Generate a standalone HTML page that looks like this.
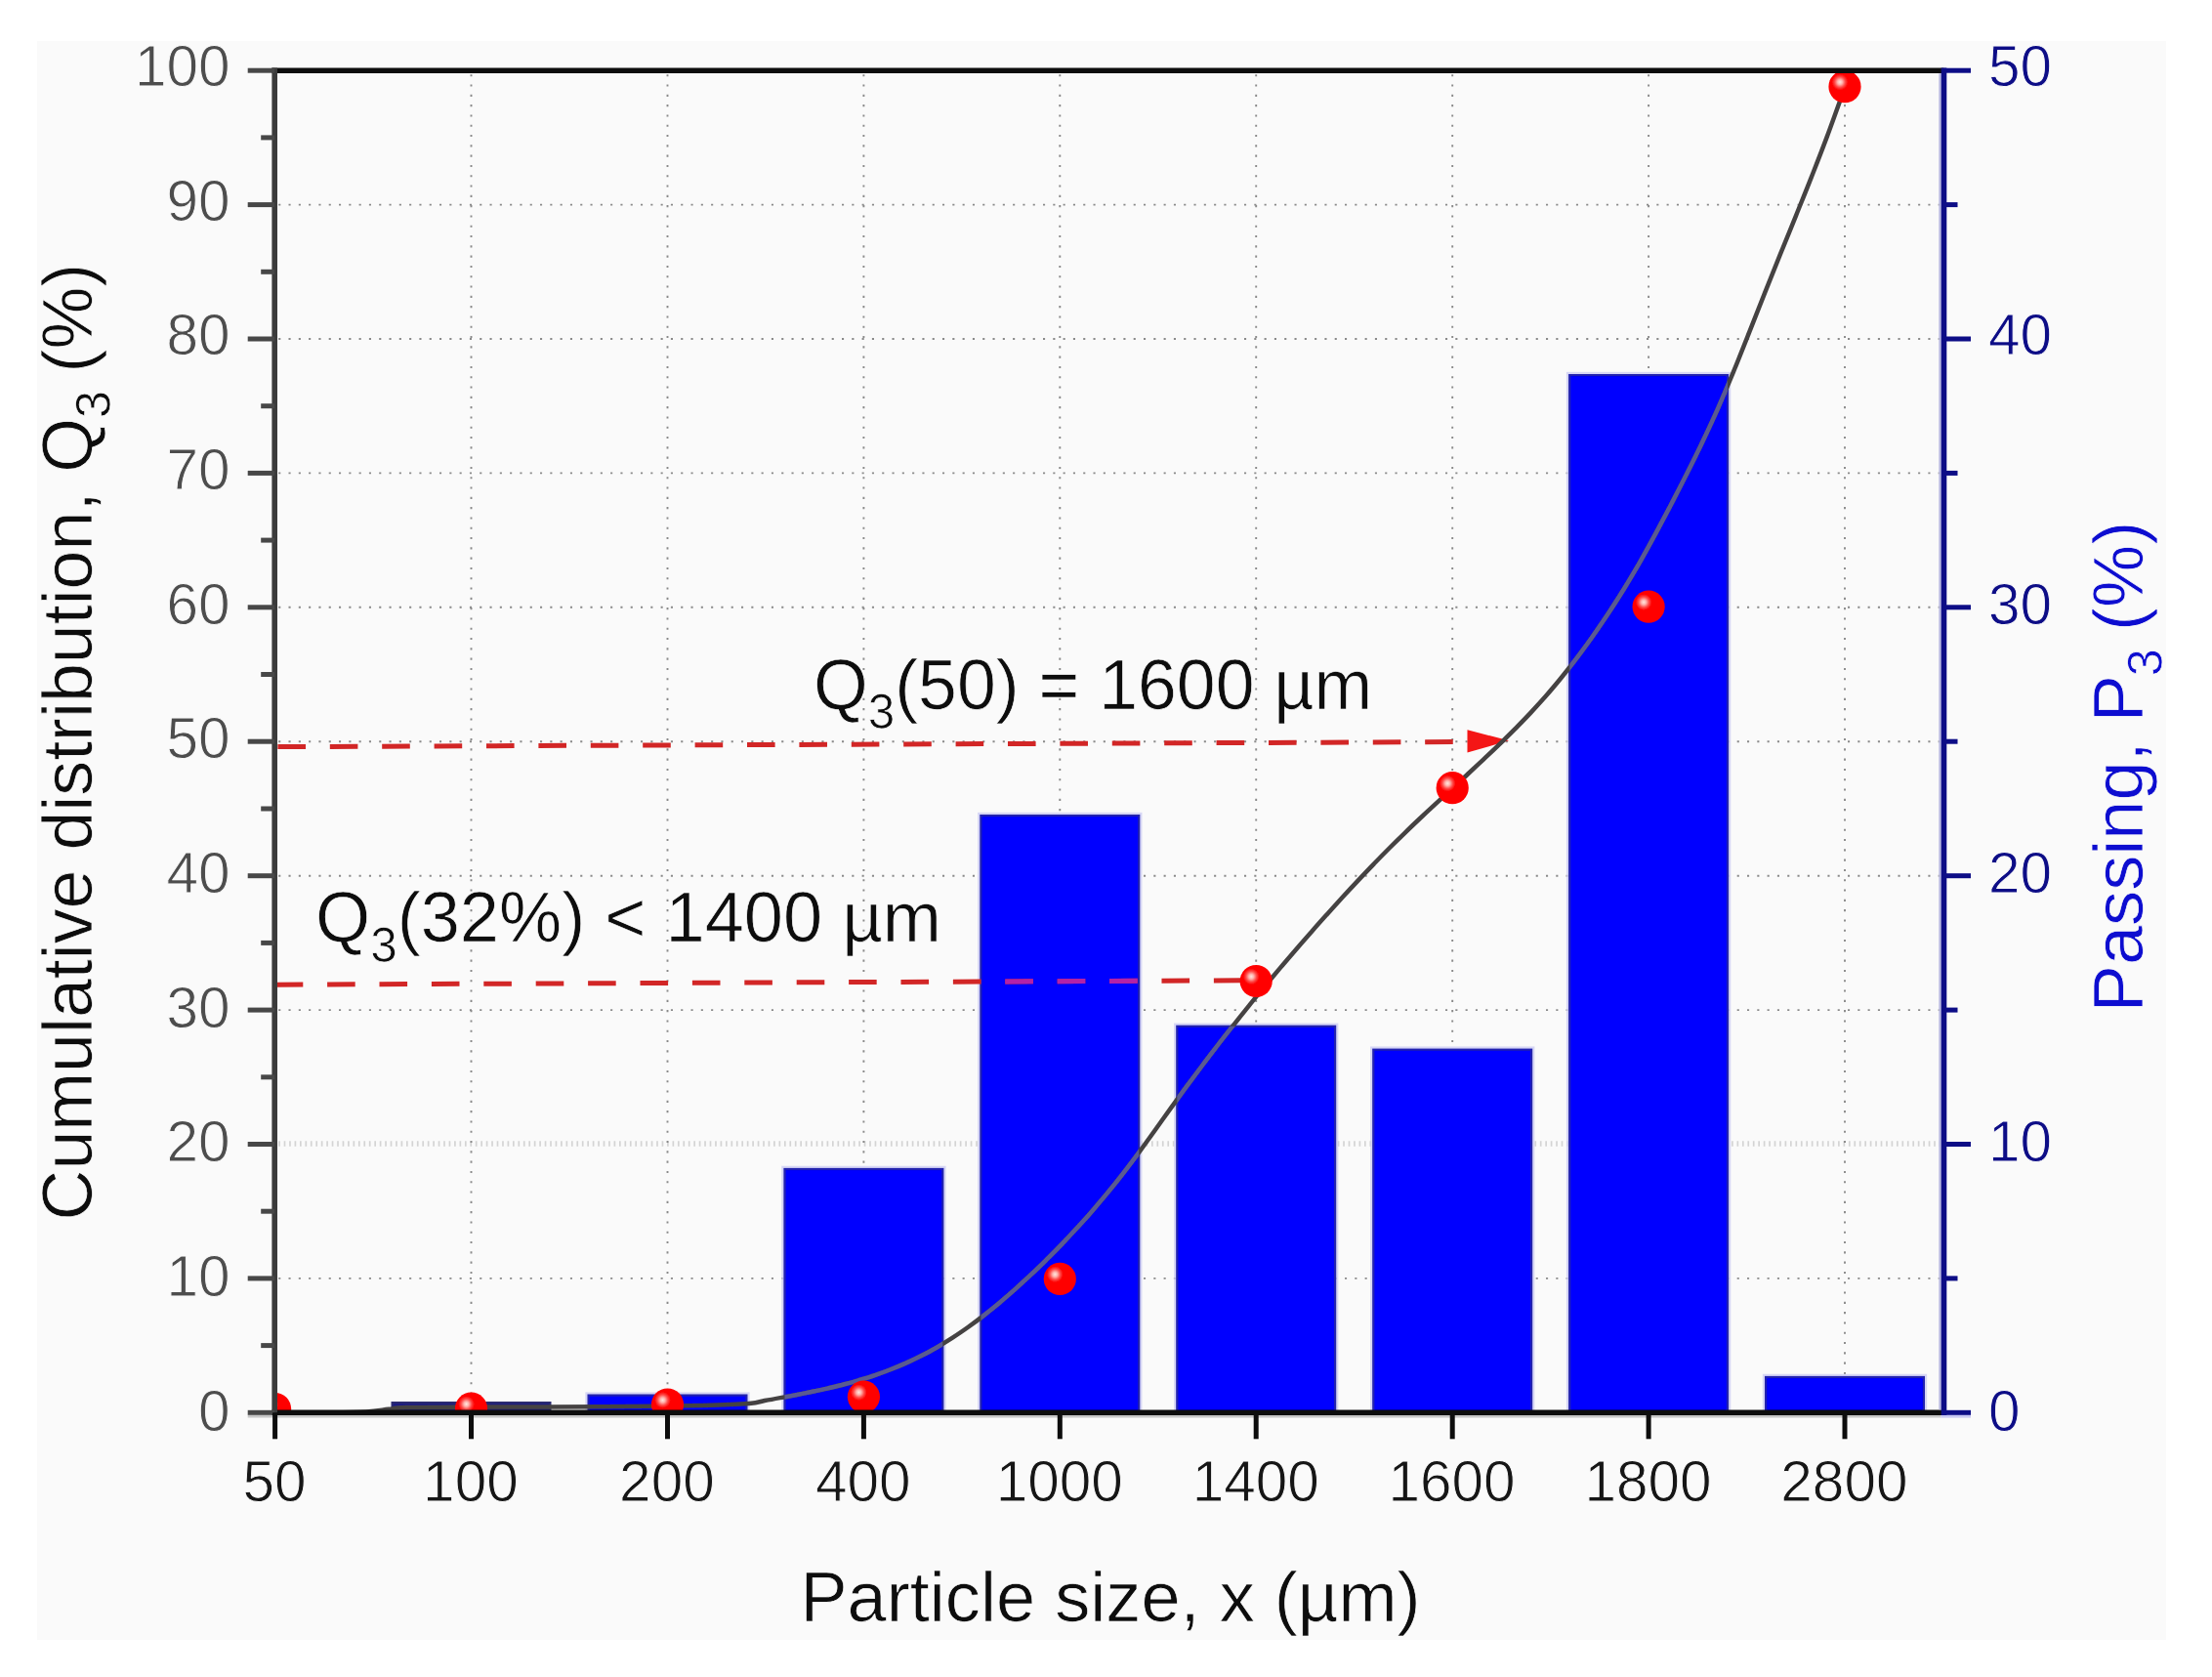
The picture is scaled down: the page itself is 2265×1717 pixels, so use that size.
<!DOCTYPE html>
<html lang="en"><head><meta charset="utf-8"><title>Particle size distribution</title>
<style>html,body{margin:0;padding:0;background:#fff}body{width:2265px;height:1717px;overflow:hidden}svg{display:block}text{font-family:"Liberation Sans", Arial, Helvetica, sans-serif;font-kerning:none;font-variant-ligatures:none;stroke:#fafafa;stroke-width:0.9px;stroke-linejoin:round}.big{stroke-width:0.7px}</style>
</head><body>
<svg width="2265" height="1717" viewBox="0 0 2265 1717">
<defs>
<clipPath id="img"><rect x="38" y="42" width="2180" height="1637"/></clipPath>
<clipPath id="plot"><rect x="281.2" y="42.2" width="1709.3" height="1404.1"/></clipPath>
<radialGradient id="ball" cx="0.35" cy="0.36" r="0.25"><stop offset="0" stop-color="#ffe6de"/><stop offset="0.3" stop-color="#ffb4ae"/><stop offset="0.65" stop-color="#ff4a48"/><stop offset="1" stop-color="#ff0000"/></radialGradient>
<filter id="soft" x="-5%" y="-5%" width="110%" height="110%"><feGaussianBlur stdDeviation="0.7"/></filter>
</defs>
<rect x="0" y="0" width="2265" height="1717" fill="#ffffff"/>
<g clip-path="url(#img)" filter="url(#soft)">
<rect x="38" y="42" width="2180" height="1637" fill="#fafafa"/>
<g stroke="#8a8a8a" stroke-width="1.9" stroke-dasharray="2.1 8.2" fill="none">
<line x1="285.2" y1="1308.9" x2="1987.5" y2="1308.9"/>
<line x1="285.2" y1="1171.0" x2="1987.5" y2="1171.0" stroke="#d4d4d4" stroke-width="5.5" stroke-dasharray="1.7 3.75"/>
<line x1="285.2" y1="1034.1" x2="1987.5" y2="1034.1"/>
<line x1="285.2" y1="896.7" x2="1987.5" y2="896.7"/>
<line x1="285.2" y1="759.2" x2="1987.5" y2="759.2"/>
<line x1="285.2" y1="621.8" x2="1987.5" y2="621.8"/>
<line x1="285.2" y1="484.4" x2="1987.5" y2="484.4"/>
<line x1="285.2" y1="347.0" x2="1987.5" y2="347.0"/>
<line x1="285.2" y1="209.6" x2="1987.5" y2="209.6"/>
<line x1="482.5" y1="76.2" x2="482.5" y2="1443.3"/>
<line x1="683.5" y1="76.2" x2="683.5" y2="1443.3"/>
<line x1="884.4" y1="76.2" x2="884.4" y2="1443.3"/>
<line x1="1085.3" y1="76.2" x2="1085.3" y2="1443.3"/>
<line x1="1286.2" y1="76.2" x2="1286.2" y2="1443.3"/>
<line x1="1487.2" y1="76.2" x2="1487.2" y2="1443.3"/>
<line x1="1688.1" y1="76.2" x2="1688.1" y2="1443.3"/>
<line x1="1889.0" y1="76.2" x2="1889.0" y2="1443.3"/>
</g>
<clipPath id="barclip"><rect x="803.5" y="1197.0" width="161.8" height="249.3"/><rect x="1004.4" y="835.1" width="161.8" height="611.2"/><rect x="1205.3" y="1050.8" width="161.8" height="395.5"/><rect x="1406.3" y="1074.7" width="161.8" height="371.6"/><rect x="1607.2" y="384.1" width="161.8" height="1062.2"/><rect x="1808.1" y="1410.0" width="161.8" height="36.3"/></clipPath>
<g fill="none" stroke="#c9c9f3" stroke-width="6.5" stroke-opacity="0.75">
<rect x="602.6" y="1428.6" width="161.8" height="17.7"/>
<rect x="803.5" y="1197.0" width="161.8" height="249.3"/>
<rect x="1004.4" y="835.1" width="161.8" height="611.2"/>
<rect x="1205.3" y="1050.8" width="161.8" height="395.5"/>
<rect x="1406.3" y="1074.7" width="161.8" height="371.6"/>
<rect x="1607.2" y="384.1" width="161.8" height="1062.2"/>
<rect x="1808.1" y="1410.0" width="161.8" height="36.3"/>
</g>
<g fill="#0000ff" stroke="#2020b0" stroke-width="2.2">
<rect x="401.6" y="1436.1" width="161.8" height="10.2" fill="#1c1c84" stroke="#2a2a70"/>
<rect x="602.6" y="1428.6" width="161.8" height="17.7"/>
<rect x="803.5" y="1197.0" width="161.8" height="249.3"/>
<rect x="1004.4" y="835.1" width="161.8" height="611.2"/>
<rect x="1205.3" y="1050.8" width="161.8" height="395.5"/>
<rect x="1406.3" y="1074.7" width="161.8" height="371.6"/>
<rect x="1607.2" y="384.1" width="161.8" height="1062.2"/>
<rect x="1808.1" y="1410.0" width="161.8" height="36.3"/>
</g>
<g stroke="#d22626" stroke-width="5" stroke-dasharray="28.6 24.8" fill="none">
<line x1="284.4" y1="764.6" x2="1488" y2="759.6"/>
<line x1="281.7" y1="1008.2" x2="1280" y2="1003.8"/>
</g>
<g stroke="#b424a8" stroke-width="5" stroke-dasharray="28.6 24.8" fill="none" clip-path="url(#barclip)">
<line x1="284.4" y1="764.6" x2="1488" y2="759.6"/>
<line x1="281.7" y1="1008.2" x2="1280" y2="1003.8"/>
</g>
<polygon points="1502.5,747.3 1545,758.3 1502.5,770.6" fill="#f41414"/>
<g clip-path="url(#plot)" fill="none" stroke-width="4.5" stroke-linecap="round" stroke-linejoin="round">
<path d="M281.0,1446.5 C289.2,1446.5 314.3,1446.5 330.0,1446.3 C345.7,1446.1 363.7,1446.0 375.0,1445.4 C386.3,1444.8 391.3,1443.5 398.0,1442.8 C404.7,1442.1 401.0,1441.4 415.0,1441.0 C429.0,1440.6 457.8,1440.7 482.0,1440.6 C506.2,1440.5 533.7,1440.6 560.0,1440.5 C586.3,1440.4 613.3,1440.3 640.0,1440.0 C666.7,1439.7 698.8,1439.4 720.0,1438.9 C741.2,1438.4 756.5,1437.8 767.0,1437.0 C777.5,1436.1 777.7,1435.0 783.0,1434.0 C788.3,1433.1 793.7,1432.1 799.0,1431.1 C804.3,1430.2 809.7,1429.2 815.0,1428.2 C820.3,1427.1 825.7,1426.1 831.0,1425.0 C836.3,1423.9 841.7,1422.8 847.0,1421.6 C852.3,1420.3 857.7,1419.1 863.0,1417.7 C868.3,1416.3 873.7,1414.9 879.0,1413.3 C884.3,1411.7 889.7,1410.1 895.0,1408.3 C900.3,1406.5 905.7,1404.6 911.0,1402.5 C916.3,1400.5 921.7,1398.3 927.0,1395.9 C932.3,1393.6 937.7,1391.0 943.0,1388.3 C948.3,1385.6 953.7,1382.8 959.0,1379.7 C964.3,1376.6 969.7,1373.3 975.0,1369.9 C980.3,1366.4 985.7,1362.8 991.0,1359.0 C996.3,1355.2 1001.7,1351.2 1007.0,1347.1 C1012.3,1342.9 1017.7,1338.6 1023.0,1334.2 C1028.3,1329.7 1033.7,1325.1 1039.0,1320.4 C1044.3,1315.6 1049.7,1310.7 1055.0,1305.7 C1060.3,1300.7 1065.7,1295.6 1071.0,1290.3 C1076.3,1285.0 1081.7,1279.7 1087.0,1274.1 C1092.3,1268.6 1097.7,1262.9 1103.0,1257.1 C1108.3,1251.3 1113.7,1245.3 1119.0,1239.2 C1124.3,1233.0 1129.7,1226.7 1135.0,1220.2 C1140.3,1213.7 1145.7,1207.0 1151.0,1200.1 C1156.3,1193.2 1161.7,1186.0 1167.0,1178.8 C1172.3,1171.6 1177.7,1164.1 1183.0,1156.7 C1188.3,1149.3 1193.7,1141.8 1199.0,1134.4 C1204.3,1127.0 1209.7,1119.7 1215.0,1112.4 C1220.3,1105.2 1225.7,1098.0 1231.0,1091.0 C1236.3,1083.9 1241.7,1076.9 1247.0,1070.0 C1252.3,1063.1 1257.7,1056.3 1263.0,1049.6 C1268.3,1042.8 1273.7,1036.2 1279.0,1029.6 C1284.3,1023.0 1289.7,1016.5 1295.0,1010.0 C1300.3,1003.6 1305.7,997.2 1311.0,990.9 C1316.3,984.6 1321.7,978.4 1327.0,972.2 C1332.3,966.0 1337.7,959.9 1343.0,953.9 C1348.3,947.8 1353.7,941.8 1359.0,935.9 C1364.3,930.0 1369.7,924.1 1375.0,918.3 C1380.3,912.5 1385.7,906.7 1391.0,901.1 C1396.3,895.4 1401.7,889.8 1407.0,884.3 C1412.3,878.8 1417.7,873.3 1423.0,868.0 C1428.3,862.7 1433.7,857.4 1439.0,852.3 C1444.3,847.1 1449.7,842.0 1455.0,837.0 C1460.3,832.0 1465.7,827.0 1471.0,822.1 C1476.3,817.1 1481.7,812.2 1487.0,807.3 C1492.3,802.4 1497.7,797.5 1503.0,792.5 C1508.3,787.6 1513.7,782.6 1519.0,777.6 C1524.3,772.6 1529.7,767.6 1535.0,762.4 C1540.3,757.2 1545.7,752.0 1551.0,746.6 C1556.3,741.2 1561.7,735.8 1567.0,730.1 C1572.3,724.4 1577.7,718.5 1583.0,712.5 C1588.3,706.4 1593.7,700.1 1599.0,693.5 C1604.3,687.0 1609.7,680.2 1615.0,673.2 C1620.3,666.1 1625.7,658.9 1631.0,651.3 C1636.3,643.7 1641.7,635.9 1647.0,627.8 C1652.3,619.7 1657.7,611.3 1663.0,602.7 C1668.3,594.0 1673.7,585.0 1679.0,575.8 C1684.3,566.5 1689.7,556.8 1695.0,546.9 C1700.3,537.1 1705.7,526.9 1711.0,516.7 C1716.3,506.5 1721.7,496.2 1727.0,485.6 C1732.3,475.0 1737.7,464.3 1743.0,453.0 C1748.3,441.8 1753.7,430.3 1759.0,418.3 C1764.3,406.2 1769.7,393.5 1775.0,380.6 C1780.3,367.7 1785.7,354.0 1791.0,340.6 C1796.3,327.2 1801.7,313.5 1807.0,300.1 C1812.3,286.7 1817.7,273.4 1823.0,260.2 C1828.3,246.9 1833.7,234.0 1839.0,220.8 C1844.3,207.6 1849.7,194.5 1855.0,180.9 C1860.3,167.4 1865.7,153.7 1871.0,139.4 C1876.3,125.2 1884.0,103.5 1887.0,95.2 C1890.0,86.9 1888.7,90.4 1889.0,89.4" stroke="#454343"/>
<path d="M281.0,1446.5 C289.2,1446.5 314.3,1446.5 330.0,1446.3 C345.7,1446.1 363.7,1446.0 375.0,1445.4 C386.3,1444.8 391.3,1443.5 398.0,1442.8 C404.7,1442.1 401.0,1441.4 415.0,1441.0 C429.0,1440.6 457.8,1440.7 482.0,1440.6 C506.2,1440.5 533.7,1440.6 560.0,1440.5 C586.3,1440.4 613.3,1440.3 640.0,1440.0 C666.7,1439.7 698.8,1439.4 720.0,1438.9 C741.2,1438.4 756.5,1437.8 767.0,1437.0 C777.5,1436.1 777.7,1435.0 783.0,1434.0 C788.3,1433.1 793.7,1432.1 799.0,1431.1 C804.3,1430.2 809.7,1429.2 815.0,1428.2 C820.3,1427.1 825.7,1426.1 831.0,1425.0 C836.3,1423.9 841.7,1422.8 847.0,1421.6 C852.3,1420.3 857.7,1419.1 863.0,1417.7 C868.3,1416.3 873.7,1414.9 879.0,1413.3 C884.3,1411.7 889.7,1410.1 895.0,1408.3 C900.3,1406.5 905.7,1404.6 911.0,1402.5 C916.3,1400.5 921.7,1398.3 927.0,1395.9 C932.3,1393.6 937.7,1391.0 943.0,1388.3 C948.3,1385.6 953.7,1382.8 959.0,1379.7 C964.3,1376.6 969.7,1373.3 975.0,1369.9 C980.3,1366.4 985.7,1362.8 991.0,1359.0 C996.3,1355.2 1001.7,1351.2 1007.0,1347.1 C1012.3,1342.9 1017.7,1338.6 1023.0,1334.2 C1028.3,1329.7 1033.7,1325.1 1039.0,1320.4 C1044.3,1315.6 1049.7,1310.7 1055.0,1305.7 C1060.3,1300.7 1065.7,1295.6 1071.0,1290.3 C1076.3,1285.0 1081.7,1279.7 1087.0,1274.1 C1092.3,1268.6 1097.7,1262.9 1103.0,1257.1 C1108.3,1251.3 1113.7,1245.3 1119.0,1239.2 C1124.3,1233.0 1129.7,1226.7 1135.0,1220.2 C1140.3,1213.7 1145.7,1207.0 1151.0,1200.1 C1156.3,1193.2 1161.7,1186.0 1167.0,1178.8 C1172.3,1171.6 1177.7,1164.1 1183.0,1156.7 C1188.3,1149.3 1193.7,1141.8 1199.0,1134.4 C1204.3,1127.0 1209.7,1119.7 1215.0,1112.4 C1220.3,1105.2 1225.7,1098.0 1231.0,1091.0 C1236.3,1083.9 1241.7,1076.9 1247.0,1070.0 C1252.3,1063.1 1257.7,1056.3 1263.0,1049.6 C1268.3,1042.8 1273.7,1036.2 1279.0,1029.6 C1284.3,1023.0 1289.7,1016.5 1295.0,1010.0 C1300.3,1003.6 1305.7,997.2 1311.0,990.9 C1316.3,984.6 1321.7,978.4 1327.0,972.2 C1332.3,966.0 1337.7,959.9 1343.0,953.9 C1348.3,947.8 1353.7,941.8 1359.0,935.9 C1364.3,930.0 1369.7,924.1 1375.0,918.3 C1380.3,912.5 1385.7,906.7 1391.0,901.1 C1396.3,895.4 1401.7,889.8 1407.0,884.3 C1412.3,878.8 1417.7,873.3 1423.0,868.0 C1428.3,862.7 1433.7,857.4 1439.0,852.3 C1444.3,847.1 1449.7,842.0 1455.0,837.0 C1460.3,832.0 1465.7,827.0 1471.0,822.1 C1476.3,817.1 1481.7,812.2 1487.0,807.3 C1492.3,802.4 1497.7,797.5 1503.0,792.5 C1508.3,787.6 1513.7,782.6 1519.0,777.6 C1524.3,772.6 1529.7,767.6 1535.0,762.4 C1540.3,757.2 1545.7,752.0 1551.0,746.6 C1556.3,741.2 1561.7,735.8 1567.0,730.1 C1572.3,724.4 1577.7,718.5 1583.0,712.5 C1588.3,706.4 1593.7,700.1 1599.0,693.5 C1604.3,687.0 1609.7,680.2 1615.0,673.2 C1620.3,666.1 1625.7,658.9 1631.0,651.3 C1636.3,643.7 1641.7,635.9 1647.0,627.8 C1652.3,619.7 1657.7,611.3 1663.0,602.7 C1668.3,594.0 1673.7,585.0 1679.0,575.8 C1684.3,566.5 1689.7,556.8 1695.0,546.9 C1700.3,537.1 1705.7,526.9 1711.0,516.7 C1716.3,506.5 1721.7,496.2 1727.0,485.6 C1732.3,475.0 1737.7,464.3 1743.0,453.0 C1748.3,441.8 1753.7,430.3 1759.0,418.3 C1764.3,406.2 1769.7,393.5 1775.0,380.6 C1780.3,367.7 1785.7,354.0 1791.0,340.6 C1796.3,327.2 1801.7,313.5 1807.0,300.1 C1812.3,286.7 1817.7,273.4 1823.0,260.2 C1828.3,246.9 1833.7,234.0 1839.0,220.8 C1844.3,207.6 1849.7,194.5 1855.0,180.9 C1860.3,167.4 1865.7,153.7 1871.0,139.4 C1876.3,125.2 1884.0,103.5 1887.0,95.2 C1890.0,86.9 1888.7,90.4 1889.0,89.4" stroke="#5a5a92" clip-path="url(#barclip)"/>
</g>
<g clip-path="url(#plot)">
<circle cx="281.6" cy="1442.6" r="16.6" fill="url(#ball)"/>
<circle cx="482.5" cy="1442.2" r="16.6" fill="url(#ball)"/>
<circle cx="683.5" cy="1438.1" r="16.6" fill="url(#ball)"/>
<circle cx="884.4" cy="1430.2" r="16.6" fill="url(#ball)"/>
<circle cx="1085.3" cy="1309.4" r="16.6" fill="url(#ball)"/>
<circle cx="1286.2" cy="1004.5" r="16.6" fill="url(#ball)"/>
<circle cx="1487.2" cy="806.7" r="16.6" fill="url(#ball)"/>
<circle cx="1688.1" cy="621.2" r="16.6" fill="url(#ball)"/>
<circle cx="1889.0" cy="88.7" r="16.6" fill="url(#ball)"/>
</g>
<line x1="253.7" y1="1450.2" x2="1987.7" y2="1450.2" stroke="#c6c6c6" stroke-width="2.8"/>
<line x1="1987.7" y1="1450.2" x2="2018.0" y2="1450.2" stroke="#c8c8f2" stroke-width="2.8"/>
<line x1="278.4" y1="72.2" x2="1990.5" y2="72.2" stroke="#0c0c0c" stroke-width="5.6"/>
<line x1="278.4" y1="1446.3" x2="1990.5" y2="1446.3" stroke="#0c0c0c" stroke-width="5.6"/>
<line x1="281.2" y1="69.4" x2="281.2" y2="1449.1" stroke="#3a3a3a" stroke-width="5.6"/>
<line x1="1986.6" y1="75.2" x2="1986.6" y2="1443.3" stroke="#b9b9e2" stroke-width="2.6"/>
<line x1="1990.5" y1="69.4" x2="1990.5" y2="1449.1" stroke="#0a0a86" stroke-width="5.6"/>
<g stroke="#474747" stroke-width="5">
<line x1="253.7" y1="1446.3" x2="281.2" y2="1446.3"/>
<line x1="267.2" y1="1377.6" x2="281.2" y2="1377.6"/>
<line x1="253.7" y1="1308.9" x2="281.2" y2="1308.9"/>
<line x1="267.2" y1="1240.2" x2="281.2" y2="1240.2"/>
<line x1="253.7" y1="1171.5" x2="281.2" y2="1171.5"/>
<line x1="267.2" y1="1102.8" x2="281.2" y2="1102.8"/>
<line x1="253.7" y1="1034.1" x2="281.2" y2="1034.1"/>
<line x1="267.2" y1="965.4" x2="281.2" y2="965.4"/>
<line x1="253.7" y1="896.7" x2="281.2" y2="896.7"/>
<line x1="267.2" y1="828.0" x2="281.2" y2="828.0"/>
<line x1="253.7" y1="759.2" x2="281.2" y2="759.2"/>
<line x1="267.2" y1="690.5" x2="281.2" y2="690.5"/>
<line x1="253.7" y1="621.8" x2="281.2" y2="621.8"/>
<line x1="267.2" y1="553.1" x2="281.2" y2="553.1"/>
<line x1="253.7" y1="484.4" x2="281.2" y2="484.4"/>
<line x1="267.2" y1="415.7" x2="281.2" y2="415.7"/>
<line x1="253.7" y1="347.0" x2="281.2" y2="347.0"/>
<line x1="267.2" y1="278.3" x2="281.2" y2="278.3"/>
<line x1="253.7" y1="209.6" x2="281.2" y2="209.6"/>
<line x1="267.2" y1="140.9" x2="281.2" y2="140.9"/>
<line x1="253.7" y1="72.2" x2="281.2" y2="72.2"/>
</g>
<g stroke="#0a0a86" stroke-width="5">
<line x1="1990.5" y1="1446.3" x2="2018.0" y2="1446.3"/>
<line x1="1990.5" y1="1308.9" x2="2004.5" y2="1308.9"/>
<line x1="1990.5" y1="1171.5" x2="2018.0" y2="1171.5"/>
<line x1="1990.5" y1="1034.1" x2="2004.5" y2="1034.1"/>
<line x1="1990.5" y1="896.7" x2="2018.0" y2="896.7"/>
<line x1="1990.5" y1="759.2" x2="2004.5" y2="759.2"/>
<line x1="1990.5" y1="621.8" x2="2018.0" y2="621.8"/>
<line x1="1990.5" y1="484.4" x2="2004.5" y2="484.4"/>
<line x1="1990.5" y1="347.0" x2="2018.0" y2="347.0"/>
<line x1="1990.5" y1="209.6" x2="2004.5" y2="209.6"/>
<line x1="1990.5" y1="72.2" x2="2018.0" y2="72.2"/>
</g>
<g stroke="#0c0c0c" stroke-width="5">
<line x1="281.6" y1="1446.3" x2="281.6" y2="1473.3"/>
<line x1="482.5" y1="1446.3" x2="482.5" y2="1473.3"/>
<line x1="683.5" y1="1446.3" x2="683.5" y2="1473.3"/>
<line x1="884.4" y1="1446.3" x2="884.4" y2="1473.3"/>
<line x1="1085.3" y1="1446.3" x2="1085.3" y2="1473.3"/>
<line x1="1286.2" y1="1446.3" x2="1286.2" y2="1473.3"/>
<line x1="1487.2" y1="1446.3" x2="1487.2" y2="1473.3"/>
<line x1="1688.1" y1="1446.3" x2="1688.1" y2="1473.3"/>
<line x1="1889.0" y1="1446.3" x2="1889.0" y2="1473.3"/>
</g>
<g font-size="58.5" fill="#4d4d4d" text-anchor="end">
<text x="235.5" y="1464.7">0</text>
<text x="235.5" y="1327.0">10</text>
<text x="235.5" y="1189.4">20</text>
<text x="235.5" y="1051.7">30</text>
<text x="235.5" y="914.0">40</text>
<text x="235.5" y="776.4">50</text>
<text x="235.5" y="638.7">60</text>
<text x="235.5" y="501.0">70</text>
<text x="235.5" y="363.3">80</text>
<text x="235.5" y="225.7">90</text>
<text x="235.5" y="88.0">100</text>
</g>
<g font-size="58.5" fill="#0a0a86" text-anchor="start">
<text x="2036" y="1464.7">0</text>
<text x="2036" y="1189.4">10</text>
<text x="2036" y="914.0">20</text>
<text x="2036" y="638.7">30</text>
<text x="2036" y="363.3">40</text>
<text x="2036" y="88.0">50</text>
</g>
<g font-size="58.5" fill="#141414" text-anchor="middle">
<text x="281.0" y="1537.2">50</text>
<text x="481.9" y="1537.2">100</text>
<text x="682.9" y="1537.2">200</text>
<text x="883.8" y="1537.2">400</text>
<text x="1084.7" y="1537.2">1000</text>
<text x="1285.7" y="1537.2">1400</text>
<text x="1486.6" y="1537.2">1600</text>
<text x="1687.5" y="1537.2">1800</text>
<text x="1888.4" y="1537.2">2800</text>
</g>
<text class="big" x="1137" y="1660" font-size="72.2" fill="#111" text-anchor="middle">Particle size, x (µm)</text>
<text class="big" transform="translate(93.9,759.6) rotate(-90)" font-size="71.7668" fill="#111" text-anchor="middle">Cumulative distribution, Q<tspan font-size="50.54" dy="19.5">3</tspan><tspan dy="-19.5" dx="-1.5"> (%)</tspan></text>
<text class="big" transform="translate(2193.8,785) rotate(-90)" font-size="72.2" fill="#0b0bd0" text-anchor="middle">Passing, P<tspan font-size="50.54" dy="20" dx="-1">3</tspan><tspan dy="-20" dx="-2"> (%)</tspan></text>
<text class="big" x="833" y="725.5" font-size="71.6224" fill="#111">Q<tspan font-size="49.457" dy="20.5">3</tspan><tspan dy="-20.5">(50) = 1600 µm</tspan></text>
<text class="big" x="323" y="964.3" font-size="72.2" fill="#111">Q<tspan font-size="49.457" dy="20.5">3</tspan><tspan dy="-20.5">(32%) &lt; 1400 µm</tspan></text>
</g>
</svg>
</body></html>
